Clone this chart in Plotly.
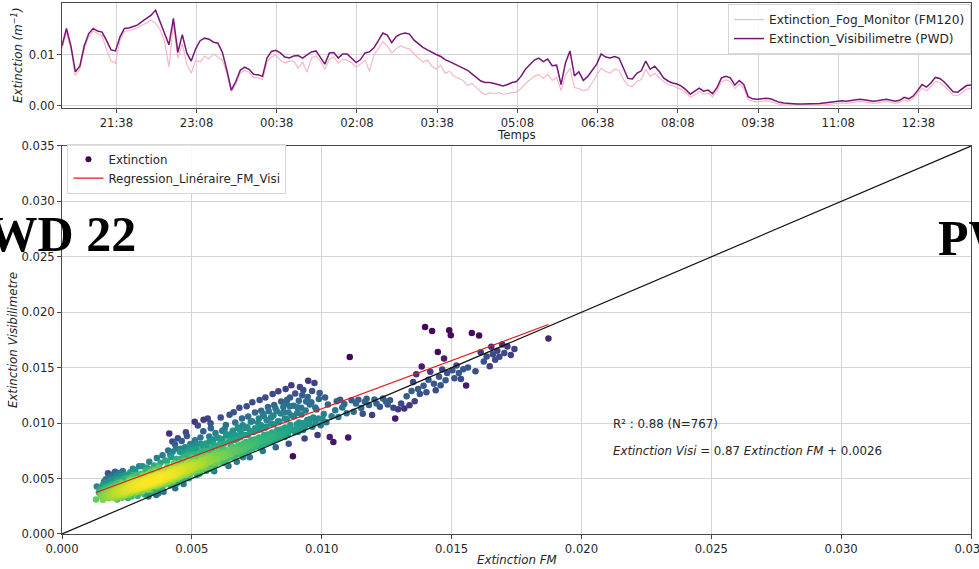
import numpy as np
import pandas as pd
import plotly.graph_objects as go

# ---------------------------------------------------------------------------
# Time series: extinction coefficient (m^-1), one sample every 5 minutes
# ---------------------------------------------------------------------------
SERIES_START = "2022-11-15 20:37"
SERIES_END = "2022-11-16 13:37"
SERIES_STEP = "5min"

ext_fm120 = [
    0.0112, 0.0145, 0.0112, 0.0060, 0.0072, 0.0112, 0.0136, 0.0147, 0.0142, 0.0138,
    0.0110, 0.0088, 0.0084, 0.0128, 0.0146, 0.0148, 0.0150, 0.0154, 0.0158, 0.0163,
    0.0168, 0.0162, 0.0150, 0.0128, 0.0076, 0.0160, 0.0094, 0.0122, 0.0082, 0.0064,
    0.0090, 0.0086, 0.0098, 0.0092, 0.0102, 0.0096, 0.0090, 0.0064, 0.0028, 0.0042,
    0.0064, 0.0070, 0.0066, 0.0056, 0.0055, 0.0052, 0.0086, 0.0096, 0.0100, 0.0090,
    0.0084, 0.0088, 0.0088, 0.0074, 0.0086, 0.0066, 0.0094, 0.0098, 0.0088, 0.0072,
    0.0092, 0.0096, 0.0084, 0.0092, 0.0090, 0.0085, 0.0076, 0.0082, 0.0090, 0.0068,
    0.0100, 0.0112, 0.0126, 0.0118, 0.0104, 0.0112, 0.0118, 0.0114, 0.0112, 0.0102,
    0.0094, 0.0086, 0.0090, 0.0078, 0.0072, 0.0080, 0.0064, 0.0068, 0.0058, 0.0054,
    0.0050, 0.0040, 0.0044, 0.0036, 0.0028, 0.0022, 0.0026, 0.0024, 0.0026, 0.0023,
    0.0025, 0.0026, 0.0027, 0.0034, 0.0044, 0.0052, 0.0058, 0.0062, 0.0054, 0.0062,
    0.0050, 0.0056, 0.0030, 0.0060, 0.0074, 0.0036, 0.0034, 0.0030, 0.0032, 0.0046,
    0.0060, 0.0074, 0.0068, 0.0064, 0.0072, 0.0070, 0.0052, 0.0040, 0.0038, 0.0048,
    0.0052, 0.0072, 0.0058, 0.0064, 0.0056, 0.0048, 0.0042, 0.0040, 0.0036, 0.0033,
    0.0026, 0.0017, 0.0022, 0.0029, 0.0023, 0.0025, 0.0018, 0.0030, 0.0047, 0.0051,
    0.0048, 0.0034, 0.0043, 0.0035, 0.0012, 0.0009, 0.0008, 0.0009, 0.0010, 0.0009,
    0.0006, 0.0003, 0.0002, 0.0002, 0.0001, 0.0001, 0.0001, 0.0001, 0.0001, 0.0002,
    0.0002, 0.0002, 0.0003, 0.0004, 0.0005, 0.0006, 0.0005, 0.0006, 0.0008, 0.0009,
    0.0008, 0.0006, 0.0005, 0.0006, 0.0008, 0.0009, 0.0007, 0.0005, 0.0007, 0.0012,
    0.0009, 0.0014, 0.0024, 0.0035, 0.0030, 0.0038, 0.0048, 0.0046, 0.0039, 0.0031,
    0.0021, 0.0020, 0.0026, 0.0033, 0.0034,
]

ext_pwd = [
    0.0118, 0.0152, 0.0118, 0.0067, 0.0078, 0.0118, 0.0142, 0.0152, 0.0147, 0.0145,
    0.0128, 0.0110, 0.0108, 0.0135, 0.0152, 0.0153, 0.0156, 0.0159, 0.0166, 0.0172,
    0.0178, 0.0188, 0.0165, 0.0140, 0.0120, 0.0172, 0.0105, 0.0140, 0.0104, 0.0088,
    0.0112, 0.0128, 0.0133, 0.0131, 0.0125, 0.0123, 0.0105, 0.0070, 0.0031, 0.0048,
    0.0070, 0.0076, 0.0072, 0.0062, 0.0061, 0.0058, 0.0094, 0.0107, 0.0109, 0.0104,
    0.0096, 0.0094, 0.0098, 0.0099, 0.0094, 0.0100, 0.0106, 0.0108, 0.0096, 0.0082,
    0.0104, 0.0105, 0.0094, 0.0102, 0.0102, 0.0093, 0.0085, 0.0091, 0.0104, 0.0106,
    0.0114, 0.0128, 0.0143, 0.0139, 0.0124, 0.0136, 0.0141, 0.0143, 0.0141, 0.0129,
    0.0122, 0.0115, 0.0110, 0.0105, 0.0101, 0.0097, 0.0091, 0.0087, 0.0083, 0.0078,
    0.0074, 0.0070, 0.0063, 0.0056, 0.0049, 0.0046, 0.0046, 0.0044, 0.0042, 0.0039,
    0.0042, 0.0046, 0.0048, 0.0058, 0.0072, 0.0081, 0.0090, 0.0094, 0.0087, 0.0092,
    0.0079, 0.0080, 0.0042, 0.0085, 0.0108, 0.0059, 0.0067, 0.0050, 0.0058, 0.0070,
    0.0082, 0.0102, 0.0096, 0.0094, 0.0097, 0.0094, 0.0073, 0.0054, 0.0053, 0.0064,
    0.0069, 0.0088, 0.0072, 0.0078, 0.0068, 0.0055, 0.0049, 0.0045, 0.0043, 0.0039,
    0.0032, 0.0023, 0.0029, 0.0035, 0.0029, 0.0031, 0.0024, 0.0036, 0.0055, 0.0058,
    0.0055, 0.0041, 0.0050, 0.0042, 0.0018, 0.0014, 0.0013, 0.0014, 0.0015, 0.0014,
    0.0010, 0.0007, 0.0006, 0.0005, 0.0004, 0.0004, 0.0004, 0.0004, 0.0004, 0.0005,
    0.0005, 0.0006, 0.0007, 0.0008, 0.0009, 0.0010, 0.0009, 0.0010, 0.0012, 0.0013,
    0.0012, 0.0010, 0.0009, 0.0010, 0.0012, 0.0013, 0.0011, 0.0009, 0.0011, 0.0017,
    0.0014, 0.0019, 0.0030, 0.0042, 0.0037, 0.0045, 0.0056, 0.0054, 0.0047, 0.0038,
    0.0028, 0.0027, 0.0033, 0.0040, 0.0041,
]

time_tick_values = [
    "2022-11-15 21:38", "2022-11-15 23:08", "2022-11-16 00:38", "2022-11-16 02:08",
    "2022-11-16 03:38", "2022-11-16 05:08", "2022-11-16 06:38", "2022-11-16 08:08",
    "2022-11-16 09:38", "2022-11-16 11:08", "2022-11-16 12:38",
]
time_tick_labels = ["21:38", "23:08", "00:38", "02:08", "03:38", "05:08",
                    "06:38", "08:08", "09:38", "11:08", "12:38"]

ext_tick_values = [0.0, 0.005, 0.010, 0.015, 0.020, 0.025, 0.030, 0.035]
ext_tick_labels = ["0.000", "0.005", "0.010", "0.015", "0.020", "0.025", "0.030", "0.035"]

# ---------------------------------------------------------------------------
# Fog-period pairs (FM120 extinction, PWD extinction), m^-1
# ---------------------------------------------------------------------------
pairs_fm_below_0030 = [
    (0.00131, 0.00312), (0.00134, 0.00428), (0.00142, 0.00375), (0.00146, 0.00405), (0.00149, 0.00352),
    (0.00152, 0.00338), (0.00155, 0.00392), (0.00157, 0.00441), (0.00159, 0.00356), (0.00161, 0.00318),
    (0.00163, 0.00372), (0.00165, 0.00421), (0.00166, 0.00345), (0.00168, 0.00398), (0.00170, 0.00462),
    (0.00172, 0.00331), (0.00173, 0.00366), (0.00175, 0.00412), (0.00176, 0.00387), (0.00178, 0.00349),
    (0.00180, 0.00436), (0.00181, 0.00322), (0.00183, 0.00375), (0.00184, 0.00403), (0.00186, 0.00358),
    (0.00187, 0.00482), (0.00188, 0.00341), (0.00190, 0.00391), (0.00191, 0.00427), (0.00192, 0.00369),
    (0.00193, 0.00335), (0.00194, 0.00452), (0.00195, 0.00384), (0.00196, 0.00411), (0.00197, 0.00352),
    (0.00198, 0.00538), (0.00198, 0.00376), (0.00199, 0.00327), (0.00185, 0.00512), (0.00177, 0.00548),
    (0.00169, 0.00495), (0.00162, 0.00471), (0.00158, 0.00309),
    (0.00201, 0.00362), (0.00202, 0.00415), (0.00203, 0.00338), (0.00204, 0.00391), (0.00205, 0.00447), (0.00206, 0.00372),
    (0.00207, 0.00328), (0.00208, 0.00406), (0.00209, 0.00363), (0.00210, 0.00521), (0.00211, 0.00384), (0.00212, 0.00431),
    (0.00213, 0.00347), (0.00214, 0.00399), (0.00215, 0.00458), (0.00216, 0.00371), (0.00217, 0.00412), (0.00218, 0.00336),
    (0.00219, 0.00388), (0.00220, 0.00549), (0.00221, 0.00423), (0.00222, 0.00365), (0.00223, 0.00402), (0.00224, 0.00474),
    (0.00225, 0.00351), (0.00226, 0.00389), (0.00227, 0.00437), (0.00228, 0.00378), (0.00229, 0.00415), (0.00230, 0.00326),
    (0.00231, 0.00396), (0.00232, 0.00448), (0.00233, 0.00361), (0.00234, 0.00569), (0.00235, 0.00408), (0.00236, 0.00382),
    (0.00237, 0.00427), (0.00238, 0.00343), (0.00239, 0.00391), (0.00240, 0.00502), (0.00241, 0.00419), (0.00242, 0.00368),
    (0.00243, 0.00445), (0.00244, 0.00401), (0.00245, 0.00355), (0.00246, 0.00386), (0.00247, 0.00432), (0.00248, 0.00534),
    (0.00249, 0.00375), (0.00201, 0.00497), (0.00204, 0.00562), (0.00208, 0.00476), (0.00212, 0.00311), (0.00216, 0.00492),
    (0.00219, 0.00433), (0.00223, 0.00381), (0.00227, 0.00526), (0.00231, 0.00462), (0.00235, 0.00334), (0.00238, 0.00411),
    (0.00251, 0.00412), (0.00252, 0.00448), (0.00253, 0.00387), (0.00254, 0.00465), (0.00255, 0.00429), (0.00256, 0.00352),
    (0.00257, 0.00441), (0.00258, 0.00398), (0.00259, 0.00477), (0.00260, 0.00421), (0.00261, 0.00543), (0.00262, 0.00456),
    (0.00263, 0.00409), (0.00264, 0.00372), (0.00265, 0.00437), (0.00266, 0.00483), (0.00267, 0.00425), (0.00268, 0.00339),
    (0.00269, 0.00452), (0.00270, 0.00414), (0.00271, 0.00466), (0.00272, 0.00391), (0.00273, 0.00588), (0.00274, 0.00443),
    (0.00275, 0.00428), (0.00276, 0.00471), (0.00277, 0.00402), (0.00278, 0.00455), (0.00279, 0.00362), (0.00280, 0.00436),
    (0.00281, 0.00489), (0.00282, 0.00418), (0.00283, 0.00461), (0.00284, 0.00527), (0.00285, 0.00447), (0.00286, 0.00395),
    (0.00287, 0.00432), (0.00288, 0.00474), (0.00289, 0.00411), (0.00290, 0.00458), (0.00291, 0.00345), (0.00292, 0.00439),
    (0.00293, 0.00496), (0.00294, 0.00424), (0.00295, 0.00467), (0.00296, 0.00408), (0.00297, 0.00612), (0.00298, 0.00451),
    (0.00299, 0.00433), (0.00252, 0.00506), (0.00256, 0.00468), (0.00259, 0.00434), (0.00263, 0.00558), (0.00267, 0.00449),
    (0.00271, 0.00512), (0.00274, 0.00419), (0.00278, 0.00438), (0.00282, 0.00572), (0.00286, 0.00462), (0.00289, 0.00381),
    (0.00293, 0.00442), (0.00297, 0.00478), (0.00254, 0.00325), (0.00261, 0.00492), (0.00268, 0.00461), (0.00275, 0.00533),
]

pairs_fm_0030_0050 = [
    (0.00301, 0.00452), (0.00302, 0.00417), (0.00303, 0.00486), (0.00304, 0.00438), (0.00305, 0.00371), (0.00306, 0.00463),
    (0.00307, 0.00429), (0.00308, 0.00502), (0.00309, 0.00447), (0.00310, 0.00611), (0.00311, 0.00415), (0.00312, 0.00478),
    (0.00313, 0.00456), (0.00314, 0.00392), (0.00315, 0.00441), (0.00316, 0.00519), (0.00317, 0.00468), (0.00318, 0.00433),
    (0.00319, 0.00357), (0.00320, 0.00482), (0.00321, 0.00449), (0.00322, 0.00574), (0.00323, 0.00426), (0.00324, 0.00461),
    (0.00325, 0.00497), (0.00326, 0.00443), (0.00327, 0.00408), (0.00328, 0.00472), (0.00329, 0.00536), (0.00330, 0.00454),
    (0.00331, 0.00421), (0.00332, 0.00488), (0.00333, 0.00339), (0.00334, 0.00465), (0.00335, 0.00437), (0.00336, 0.00652),
    (0.00337, 0.00509), (0.00338, 0.00476), (0.00339, 0.00446), (0.00340, 0.00398), (0.00341, 0.00469), (0.00342, 0.00527),
    (0.00343, 0.00458), (0.00344, 0.00431), (0.00345, 0.00493), (0.00346, 0.00374), (0.00347, 0.00452), (0.00348, 0.00589),
    (0.00349, 0.00483), (0.00303, 0.00544), (0.00307, 0.00391), (0.00311, 0.00527), (0.00315, 0.00472), (0.00319, 0.00445),
    (0.00323, 0.00512), (0.00327, 0.00598), (0.00331, 0.00452), (0.00335, 0.00411), (0.00339, 0.00559), (0.00343, 0.00502),
    (0.00351, 0.00468), (0.00352, 0.00432), (0.00353, 0.00503), (0.00354, 0.00456), (0.00355, 0.00617), (0.00356, 0.00481),
    (0.00357, 0.00446), (0.00358, 0.00392), (0.00359, 0.00527), (0.00360, 0.00473), (0.00361, 0.00438), (0.00362, 0.00561),
    (0.00363, 0.00492), (0.00364, 0.00459), (0.00365, 0.00686), (0.00366, 0.00421), (0.00367, 0.00514), (0.00368, 0.00477),
    (0.00369, 0.00448), (0.00370, 0.00538), (0.00371, 0.00367), (0.00372, 0.00496), (0.00373, 0.00462), (0.00374, 0.00592),
    (0.00375, 0.00508), (0.00376, 0.00474), (0.00377, 0.00441), (0.00378, 0.00531), (0.00379, 0.00643), (0.00380, 0.00486),
    (0.00381, 0.00455), (0.00382, 0.00519), (0.00383, 0.00402), (0.00384, 0.00497), (0.00385, 0.00552), (0.00386, 0.00468),
    (0.00387, 0.00711), (0.00388, 0.00489), (0.00389, 0.00526), (0.00390, 0.00457), (0.00391, 0.00381), (0.00392, 0.00509),
    (0.00393, 0.00574), (0.00394, 0.00481), (0.00395, 0.00448), (0.00396, 0.00532), (0.00397, 0.00494), (0.00398, 0.00663),
    (0.00399, 0.00517), (0.00356, 0.00574), (0.00363, 0.00352), (0.00371, 0.00608), (0.00379, 0.00466), (0.00387, 0.00421),
    (0.00401, 0.00491), (0.00403, 0.00532), (0.00404, 0.00468), (0.00406, 0.00611), (0.00407, 0.00512), (0.00409, 0.00754),
    (0.00410, 0.00478), (0.00412, 0.00549), (0.00413, 0.00906), (0.00415, 0.00503), (0.00416, 0.00582), (0.00418, 0.00439),
    (0.00419, 0.00527), (0.00421, 0.00694), (0.00422, 0.00496), (0.00424, 0.00561), (0.00425, 0.00834), (0.00427, 0.00518),
    (0.00428, 0.00473), (0.00430, 0.00546), (0.00431, 0.00638), (0.00433, 0.00509), (0.00434, 0.00584), (0.00436, 0.00412),
    (0.00437, 0.00533), (0.00439, 0.00772), (0.00440, 0.00557), (0.00442, 0.00498), (0.00443, 0.00612), (0.00445, 0.00541),
    (0.00446, 0.00863), (0.00448, 0.00521), (0.00449, 0.00578), (0.00402, 0.00572), (0.00405, 0.00658), (0.00411, 0.00524),
    (0.00414, 0.00461), (0.00417, 0.00716), (0.00420, 0.00593), (0.00423, 0.00542), (0.00426, 0.00487), (0.00429, 0.00601),
    (0.00432, 0.00552), (0.00435, 0.00809), (0.00438, 0.00574), (0.00441, 0.00676), (0.00444, 0.00517), (0.00447, 0.00563),
    (0.00408, 0.00539), (0.00426, 0.00742), (0.00436, 0.00627), (0.00443, 0.00458), (0.00416, 0.00552), (0.00431, 0.00531),
    (0.00451, 0.00536), (0.00453, 0.00582), (0.00454, 0.00741), (0.00456, 0.00517), (0.00458, 0.00603), (0.00459, 0.00556),
    (0.00461, 0.00838), (0.00463, 0.00529), (0.00464, 0.00618), (0.00466, 0.00571), (0.00468, 0.00452), (0.00469, 0.00692),
    (0.00471, 0.00548), (0.00473, 0.00594), (0.00474, 0.00782), (0.00476, 0.00532), (0.00478, 0.00627), (0.00479, 0.00566),
    (0.00481, 0.00883), (0.00483, 0.00547), (0.00484, 0.00608), (0.00486, 0.00719), (0.00488, 0.00578), (0.00489, 0.00503),
    (0.00491, 0.00643), (0.00493, 0.00591), (0.00494, 0.00812), (0.00496, 0.00554), (0.00498, 0.00617), (0.00499, 0.00672),
    (0.00452, 0.00641), (0.00457, 0.00768), (0.00462, 0.00578), (0.00467, 0.00544), (0.00472, 0.00661), (0.00477, 0.00917),
    (0.00482, 0.00637), (0.00487, 0.00759), (0.00492, 0.00531), (0.00497, 0.00702), (0.00455, 0.00598), (0.00465, 0.00487),
    (0.00475, 0.00609), (0.00485, 0.00571),
    (0.00458, 0.00682), (0.00467, 0.00731), (0.00476, 0.00698), (0.00488, 0.00752), (0.00497, 0.00786),
]

pairs_fm_0050_0100 = [
    (0.00506, 0.00721), (0.00518, 0.00768), (0.00534, 0.00815),
    (0.00501, 0.00582), (0.00503, 0.00624), (0.00505, 0.00758), (0.00507, 0.00561), (0.00509, 0.00647), (0.00511, 0.01012),
    (0.00513, 0.00598), (0.00515, 0.00683), (0.00517, 0.00812), (0.00519, 0.00574), (0.00521, 0.00636), (0.00523, 0.00979),
    (0.00525, 0.00609), (0.00527, 0.00726), (0.00529, 0.00543), (0.00531, 0.00658), (0.00533, 0.00871), (0.00535, 0.00612),
    (0.00537, 0.00687), (0.00539, 0.00589), (0.00541, 0.00794), (0.00543, 0.00641), (0.00545, 0.01031), (0.00547, 0.00603),
    (0.00549, 0.00712), (0.00504, 0.00689), (0.00512, 0.00845), (0.00520, 0.00532), (0.00528, 0.00627), (0.00536, 0.00745),
    (0.00544, 0.00928), (0.00508, 0.00619), (0.00532, 0.00569), (0.00540, 0.00664),
    (0.00551, 0.00627), (0.00553, 0.00671), (0.00555, 0.00816), (0.00557, 0.00603), (0.00559, 0.00692), (0.00561, 0.01043),
    (0.00563, 0.00648), (0.00565, 0.00738), (0.00567, 0.00879), (0.00569, 0.00612), (0.00571, 0.00684), (0.00573, 0.00955),
    (0.00575, 0.00659), (0.00577, 0.00769), (0.00579, 0.00584), (0.00581, 0.00706), (0.00583, 0.00852), (0.00585, 0.00641),
    (0.00587, 0.00723), (0.00589, 0.00618), (0.00591, 0.00911), (0.00593, 0.00679), (0.00595, 0.00794), (0.00597, 0.00652),
    (0.00599, 0.00741), (0.00556, 0.00571), (0.00572, 0.00998), (0.00586, 0.00567), (0.00566, 0.00702), (0.00592, 0.00633),
    (0.00552, 0.00748), (0.00558, 0.00792), (0.00568, 0.00835), (0.00576, 0.00768), (0.00584, 0.00804), (0.00596, 0.00871),
    (0.00601, 0.00673), (0.00603, 0.00712), (0.00605, 0.00864), (0.00607, 0.00648), (0.00609, 0.00738), (0.00611, 0.01052),
    (0.00613, 0.00691), (0.00615, 0.00784), (0.00617, 0.00931), (0.00619, 0.00662), (0.00621, 0.00726), (0.00623, 0.00817),
    (0.00625, 0.00697), (0.00627, 0.00641), (0.00629, 0.00762), (0.00631, 0.00983), (0.00633, 0.00704), (0.00635, 0.00889),
    (0.00637, 0.00679), (0.00639, 0.00748), (0.00641, 0.00614), (0.00643, 0.00721), (0.00645, 0.01076), (0.00647, 0.00692),
    (0.00649, 0.00806), (0.00606, 0.00759), (0.00626, 0.00948),
    (0.00608, 0.00812), (0.00618, 0.00856), (0.00632, 0.00902), (0.00644, 0.00838),
    (0.00651, 0.00718), (0.00653, 0.00764), (0.00655, 0.00912), (0.00657, 0.00691), (0.00659, 0.00782), (0.00661, 0.01098),
    (0.00663, 0.00739), (0.00665, 0.00847), (0.00667, 0.01006), (0.00669, 0.00706), (0.00671, 0.00773), (0.00673, 0.00652),
    (0.00675, 0.00744), (0.00677, 0.00961), (0.00679, 0.00798), (0.00681, 0.00722), (0.00683, 0.01138), (0.00685, 0.00761),
    (0.00687, 0.00872), (0.00689, 0.00733), (0.00691, 0.00805), (0.00693, 0.01042), (0.00695, 0.00754), (0.00697, 0.00693),
    (0.00699, 0.00817),
    (0.00652, 0.00878), (0.00658, 0.00931), (0.00666, 0.00892), (0.00674, 0.00857), (0.00682, 0.00948), (0.00688, 0.00915),
    (0.00696, 0.00982),
    (0.00701, 0.00768), (0.00703, 0.00812), (0.00705, 0.00957), (0.00707, 0.00741), (0.00709, 0.00829), (0.00711, 0.01152),
    (0.00713, 0.00786), (0.00715, 0.00894), (0.00717, 0.01061), (0.00719, 0.00758), (0.00721, 0.00821), (0.00723, 0.00693),
    (0.00725, 0.00793), (0.00727, 0.01013), (0.00729, 0.00847), (0.00731, 0.00772), (0.00733, 0.01189), (0.00735, 0.00806),
    (0.00737, 0.00921), (0.00739, 0.00781), (0.00741, 0.00853), (0.00743, 0.01097), (0.00745, 0.00798), (0.00748, 0.00834),
    (0.00704, 0.00893), (0.00714, 0.00962), (0.00724, 0.00928), (0.00732, 0.01018), (0.00744, 0.00954),
    (0.00751, 0.00812), (0.00753, 0.00857), (0.00755, 0.01004), (0.00757, 0.00786), (0.00759, 0.00871), (0.00761, 0.01208),
    (0.00763, 0.00831), (0.00765, 0.00942), (0.00767, 0.01112), (0.00769, 0.00803), (0.00771, 0.00866), (0.00773, 0.00748),
    (0.00775, 0.00839), (0.00777, 0.01062), (0.00779, 0.00893), (0.00781, 0.00817), (0.00783, 0.01231), (0.00785, 0.00851),
    (0.00787, 0.00968), (0.00789, 0.00826), (0.00791, 0.00898), (0.00793, 0.01146), (0.00795, 0.00843), (0.00798, 0.00879),
    (0.00752, 0.00937), (0.00758, 0.01042), (0.00766, 0.00981), (0.00774, 0.01083), (0.00782, 0.00958), (0.00788, 0.01026),
    (0.00796, 0.01107),
    (0.00801, 0.00857), (0.00803, 0.00902), (0.00805, 0.01051), (0.00807, 0.00831), (0.00809, 0.00916), (0.00811, 0.01264),
    (0.00813, 0.00876), (0.00815, 0.00989), (0.00817, 0.01163), (0.00819, 0.00848), (0.00821, 0.00911), (0.00823, 0.00782),
    (0.00825, 0.00884), (0.00827, 0.01109), (0.00829, 0.00938), (0.00831, 0.00862), (0.00833, 0.01287), (0.00835, 0.00896),
    (0.00837, 0.01015), (0.00839, 0.00871), (0.00841, 0.00943), (0.00844, 0.01196), (0.00847, 0.00889),
    (0.00806, 0.00994), (0.00814, 0.01068), (0.00822, 0.01132), (0.00832, 0.01018), (0.00842, 0.01087),
    (0.00851, 0.00902), (0.00853, 0.00947), (0.00855, 0.01098), (0.00857, 0.00876), (0.00859, 0.00961), (0.00861, 0.01308),
    (0.00863, 0.00921), (0.00865, 0.01034), (0.00867, 0.01212), (0.00869, 0.00893), (0.00871, 0.00956), (0.00873, 0.00815),
    (0.00875, 0.00929), (0.00877, 0.01153), (0.00879, 0.00983), (0.00883, 0.01342), (0.00886, 0.00941), (0.00889, 0.00702),
    (0.00893, 0.01062), (0.00897, 0.00918),
    (0.00852, 0.01146), (0.00858, 0.01041), (0.00864, 0.01178), (0.00872, 0.01097), (0.00878, 0.01232), (0.00884, 0.01068),
    (0.00892, 0.01156), (0.00898, 0.01267),
    (0.00901, 0.00947), (0.00904, 0.00991), (0.00907, 0.01143), (0.00910, 0.00922), (0.00913, 0.01006), (0.00916, 0.01327),
    (0.00919, 0.00968), (0.00922, 0.01079), (0.00925, 0.01251), (0.00928, 0.00938), (0.00931, 0.01002), (0.00934, 0.00861),
    (0.00937, 0.00975), (0.00940, 0.01196), (0.00944, 0.01029), (0.00948, 0.01382),
    (0.00906, 0.01092), (0.00912, 0.01203), (0.00921, 0.01138), (0.00929, 0.01298), (0.00938, 0.01114), (0.00946, 0.01236),
    (0.00952, 0.00993), (0.00956, 0.01037), (0.00960, 0.01189), (0.00964, 0.00967), (0.00968, 0.01051), (0.00972, 0.01362),
    (0.00976, 0.01012), (0.00980, 0.01124), (0.00984, 0.00892), (0.00988, 0.01043), (0.00992, 0.01271), (0.00996, 0.00981),
    (0.00954, 0.01168), (0.00963, 0.01289), (0.00975, 0.01142), (0.00989, 0.01217),
]

pairs_fm_above_0100 = [
    (0.01003, 0.01038), (0.01008, 0.01082), (0.01013, 0.01231), (0.01018, 0.01009), (0.01024, 0.01168), (0.01031, 0.00874),
    (0.01038, 0.01062), (0.01045, 0.00831),
    (0.01052, 0.01117), (0.01058, 0.01198), (0.01064, 0.01056), (0.01071, 0.01211), (0.01079, 0.01142), (0.01087, 0.01172),
    (0.01096, 0.01089),
    (0.01102, 0.00871), (0.01108, 0.01597), (0.01115, 0.01206), (0.01123, 0.01102), (0.01132, 0.01178), (0.01141, 0.01211),
    (0.01152, 0.01137), (0.01158, 0.01084), (0.01166, 0.01192), (0.01173, 0.01221), (0.01182, 0.01163), (0.01194, 0.01073),
    (0.01203, 0.01214), (0.01211, 0.01178), (0.01224, 0.01148), (0.01236, 0.01223), (0.01247, 0.01196),
    (0.01254, 0.01169), (0.01263, 0.01207), (0.01276, 0.01138), (0.01283, 0.01042), (0.01294, 0.01126),
    (0.01306, 0.01178), (0.01318, 0.01131), (0.01327, 0.01243), (0.01338, 0.01162), (0.01346, 0.01289),
    (0.01352, 0.01372), (0.01358, 0.01198), (0.01364, 0.01441), (0.01371, 0.01309), (0.01378, 0.01263), (0.01385, 0.01512),
    (0.01392, 0.01338), (0.01398, 0.01867),
    (0.01403, 0.01278), (0.01411, 0.01392), (0.01418, 0.01463), (0.01425, 0.01831), (0.01432, 0.01356), (0.01439, 0.01296),
    (0.01447, 0.01642),
    (0.01452, 0.01418), (0.01458, 0.01342), (0.01464, 0.01483), (0.01471, 0.01582), (0.01477, 0.01387), (0.01483, 0.01452),
    (0.01491, 0.01839), (0.01497, 0.01792),
    (0.01503, 0.01478), (0.01511, 0.01406), (0.01519, 0.01521), (0.01528, 0.01452), (0.01536, 0.01398), (0.01545, 0.01487),
    (0.01556, 0.01339), (0.01563, 0.01502), (0.01578, 0.01813), (0.01592, 0.01468),
    (0.01606, 0.01791), (0.01612, 0.01639), (0.01624, 0.01557), (0.01635, 0.01602), (0.01647, 0.01514),
    (0.01653, 0.01688), (0.01659, 0.01622), (0.01668, 0.01571), (0.01676, 0.01653), (0.01684, 0.01598), (0.01695, 0.01709),
    (0.01703, 0.01632), (0.01715, 0.01691), (0.01728, 0.01615), (0.01742, 0.01668),
    (0.01873, 0.01763),
]

# Linear fit reported on the chart
REG_SLOPE = 0.87
REG_INTERCEPT = 0.0026
REG_R2 = 0.88

# ---------------------------------------------------------------------------
pairs = np.array(pairs_fm_below_0030 + pairs_fm_0030_0050 + pairs_fm_0050_0100 + pairs_fm_above_0100)
fm = pairs[:, 0]
visi = pairs[:, 1]
n_points = len(fm)

# Gaussian kernel density (Scott bandwidth, full covariance) for point colouring,
# compressed with a power scale so sparse regions stay readable
xy = np.vstack([fm, visi])
bw = 1.3 * n_points ** (-1.0 / 6.0)
inv_cov = np.linalg.inv(np.cov(xy) * bw ** 2)
d = xy[:, :, None] - xy[:, None, :]
q = np.einsum("inm,ij,jnm->nm", d, inv_cov, d)
density = np.exp(-0.5 * q).sum(axis=1)
shade = (density / density.max()) ** 0.42
order = np.argsort(shade)

times = pd.date_range(SERIES_START, SERIES_END, freq=SERIES_STEP)

FONT = "DejaVu Sans"
TXT = "#262626"
GRID = "#d4d4d4"
FRAME = "#4a4a4a"
FS = 11.8

fig = go.Figure()

# top panel: time series
fig.add_trace(go.Scatter(
    x=times, y=ext_fm120, mode="lines", name="Extinction_Fog_Monitor (FM120)",
    line=dict(color="#f6b8c4", width=1.2), xaxis="x", yaxis="y", legend="legend2"))
fig.add_trace(go.Scatter(
    x=times, y=ext_pwd, mode="lines", name="Extinction_Visibilimetre (PWD)",
    line=dict(color="#761676", width=1.5), xaxis="x", yaxis="y", legend="legend2"))

# bottom panel: density scatter, fit and 1:1 line
fig.add_trace(go.Scatter(
    x=[None], y=[None], mode="markers", name="Extinction",
    marker=dict(color="#440154", size=6), xaxis="x2", yaxis="y2", legend="legend"))
fig.add_trace(go.Scatter(
    x=fm[order], y=visi[order], mode="markers", showlegend=False,
    marker=dict(color=shade[order], colorscale="Viridis", size=6.5,
                cmin=shade.min(), cmax=1.0, line=dict(width=0)),
    xaxis="x2", yaxis="y2"))
fig.add_trace(go.Scatter(
    x=[0, 0.035], y=[0, 0.035], mode="lines", showlegend=False,
    line=dict(color="#111111", width=1.2), xaxis="x2", yaxis="y2"))
x_fit = np.array([fm.min(), fm.max()])
fig.add_trace(go.Scatter(
    x=x_fit, y=REG_SLOPE * x_fit + REG_INTERCEPT, mode="lines",
    name="Regression_Linéraire_FM_Visi",
    line=dict(color="#e31a1c", width=1.2), xaxis="x2", yaxis="y2", legend="legend"))

axis_common = dict(
    showgrid=True, gridcolor=GRID, gridwidth=1, showline=True, linecolor=FRAME,
    linewidth=1, mirror=True, ticks="outside", ticklen=4, tickcolor=FRAME,
    tickfont=dict(family=FONT, size=11.6, color=TXT), zeroline=False,
    ticklabeloverflow="allow")

TOP_DOM = [0.8023, 1.0]
BOT_DOM = [0.0, 0.7307]

fig.update_layout(
    width=979, height=569,
    margin=dict(l=62, r=8, t=3, b=35, autoexpand=False),
    paper_bgcolor="white", plot_bgcolor="white",
    font=dict(family=FONT, size=FS, color=TXT),
    xaxis=dict(axis_common, type="date",
               range=[SERIES_START, SERIES_END],
               tickvals=time_tick_values, ticktext=time_tick_labels,
               anchor="y"),
    yaxis=dict(axis_common, domain=TOP_DOM, range=[-0.0004, 0.0202],
               tickvals=[0.0, 0.01], ticktext=["0.00", "0.01"], anchor="x"),
    xaxis2=dict(axis_common, range=[0, 0.035], tickvals=ext_tick_values,
                ticktext=ext_tick_labels, anchor="y2"),
    yaxis2=dict(axis_common, domain=BOT_DOM, range=[0, 0.035], tickvals=ext_tick_values,
                ticktext=ext_tick_labels, anchor="x2"),
    legend=dict(x=0.006, y=0.735, xanchor="left", yanchor="top",
                bgcolor="rgba(255,255,255,0.85)", bordercolor="#d6d6d6",
                borderwidth=1, font=dict(family=FONT, size=FS, color=TXT),
                tracegroupgap=0, itemwidth=30),
    legend2=dict(x=1.0, y=0.998, xanchor="right", yanchor="top",
                 bgcolor="rgba(255,255,255,0.85)", bordercolor="#d6d6d6",
                 borderwidth=1, font=dict(family=FONT, size=12.2, color=TXT),
                 tracegroupgap=0, itemwidth=30),
)

annotations = [
    # axis titles
    dict(text="<i>Extinction (m<sup>−1</sup>)</i>", x=-0.0495, y=0.902, textangle=-90),
    dict(text="Temps", x=0.5, y=0.7514),
    dict(text="<i>Extinction FM</i>", x=0.5, y=-0.049),
    dict(text="<i>Extinction Visibilimetre</i>", x=-0.054, y=0.365, textangle=-90),
    # fit statistics
    dict(text=f"R² : {REG_R2:.2f} (N={n_points})", x=0.604, y=0.207, xanchor="left"),
    dict(text=f"<i>Extinction Visi</i> = {REG_SLOPE:.2f} <i>Extinction FM</i> + {REG_INTERCEPT:.4f}",
         x=0.604, y=0.156, xanchor="left"),
]
for a in annotations:
    a.setdefault("xanchor", "center")
    fig.add_annotation(xref="paper", yref="paper", showarrow=False, yanchor="middle",
                       font=dict(family=FONT, size=FS, color=TXT), **a)

# instrument labels
big = dict(family="Liberation Serif", size=50, color="black")
fig.add_annotation(text="<b>PWD 22</b>", xref="paper", yref="paper", x=0.0825, y=0.565,
                   xanchor="right", yanchor="middle", showarrow=False, font=big, borderpad=0)
fig.add_annotation(text="<b>PWD 22</b>", xref="paper", yref="paper", x=0.9626, y=0.557,
                   xanchor="left", yanchor="middle", showarrow=False, font=big, borderpad=0)

fig.write_html("out.html")
